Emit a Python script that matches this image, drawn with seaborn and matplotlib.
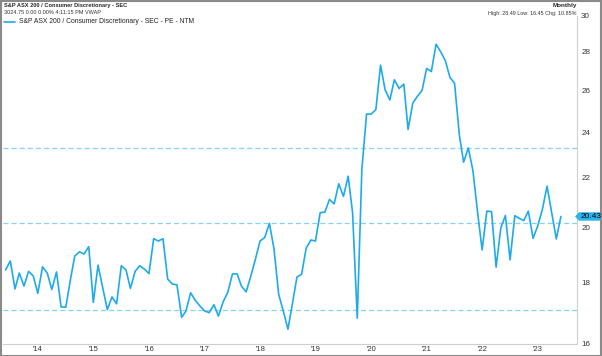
import numpy as np
import pandas as pd
import matplotlib
matplotlib.use("Agg")
import matplotlib.pyplot as plt
from matplotlib.patches import Rectangle, Polygon
import seaborn as sns

# ---- data ----
start_date = "2013-11-30"
pe_ntm = [18.44, 18.76, 17.78, 18.33, 17.88, 18.39, 18.23, 17.63, 18.55, 18.33,
          17.76, 18.37, 17.18, 17.17, 18.12, 18.94, 19.09, 19.01, 19.28, 17.33,
          18.61, 17.82, 17.09, 17.51, 17.28, 18.59, 18.44, 17.80, 18.39, 18.59,
          18.47, 18.31, 19.58, 19.49, 19.58, 18.12, 17.95, 17.92, 16.84, 17.04,
          17.65, 17.40, 17.21, 17.05, 16.99, 17.25, 16.88, 17.35, 17.66, 18.30,
          18.30, 17.88, 17.68, 18.21, 18.82, 19.49, 19.62, 20.16, 19.21, 17.60,
          17.05, 16.46, 17.33, 18.19, 18.29, 19.23, 19.53, 19.49, 20.58, 20.60,
          21.11, 20.93, 21.75, 21.23, 22.07, 20.58, 16.81, 22.35, 24.86, 24.86,
          25.07, 27.30, 26.04, 25.54, 26.55, 26.11, 26.33, 24.14, 25.39, 25.72,
          26.01, 27.13, 26.97, 28.42, 28.02, 27.54, 26.68, 26.36, 23.90, 22.67,
          23.30, 22.33, 20.60, 19.16, 20.64, 20.62, 18.54, 19.99, 20.47, 18.80,
          20.46, 20.36, 20.27, 20.64, 19.59, 20.05, 20.70, 21.65, 20.60, 19.57,
          20.43]
band_levels = [23.30, 20.19, 17.07]  # mean +1sd, mean, mean -1sd
y_ticks = [16, 18, 20, 22, 24, 26, 28, 30]
year_ticks = list(range(2014, 2024))
year_labels = ["'" + str(y)[2:] for y in year_ticks]
last_value = 20.43

title = "S&P ASX 200 / Consumer Discretionary - SEC"
subtitle = "3024.75 0.00 0.00% 4:11:15 PM VWAP"
series_name = "S&P ASX 200 / Consumer Discretionary - SEC - PE - NTM"
freq_label = "Monthly"
stats_label = "High: 28.49 Low: 16.45 Chg: 10.85%"

df = pd.DataFrame({
    "date": pd.date_range(start_date, periods=len(pe_ntm), freq="ME"),
    "pe": pe_ntm,
})

# ---- style ----
sns.set_style("white")
plt.rcParams["font.family"] = ["Liberation Sans", "DejaVu Sans"]

LINE = "#1eaaec"
BAND = "#86d4f4"
TAG = "#2ab4ef"
W, H = 602, 356
fig = plt.figure(figsize=(W / 100, H / 100), dpi=100)

ax_l, ax_r, ax_t, ax_b = 3, 577, 16, 344
ax = fig.add_axes([ax_l / W, 1 - ax_b / H, (ax_r - ax_l) / W, (ax_b - ax_t) / H])

sns.lineplot(data=df, x="date", y="pe", ax=ax, color=LINE, linewidth=1.2)
for lv in band_levels:
    ax.axhline(lv, color=BAND, linestyle=(0, (4, 2.5)), linewidth=0.9, zorder=1)

ax.set_yscale("log")
ax.set_ylim(16, 30)
ax.yaxis.set_minor_locator(matplotlib.ticker.NullLocator())
ax.set_yticks(y_ticks)
ax.set_yticklabels([str(t) for t in y_ticks])
ax.yaxis.tick_right()
ax.tick_params(axis="y", which="both", length=0, pad=3, labelsize=5.8, labelcolor="#333333")

ax.set_xlim(pd.Timestamp("2013-11-13"), pd.Timestamp("2024-03-15"))
ax.set_xticks([pd.Timestamp(f"{y}-07-01") for y in year_ticks])
ax.set_xticklabels(year_labels)
ax.tick_params(axis="x", length=0, pad=1.5, labelsize=5.5, labelcolor="#333333")
ax.set_xlabel("")
ax.set_ylabel("")

for s in ["top", "left"]:
    ax.spines[s].set_visible(False)
for s in ["right", "bottom"]:
    ax.spines[s].set_color("#cfcfcf")
    ax.spines[s].set_linewidth(0.8)

# last value tag (arrow-shaped box on the right axis)
tag_y_px = H - ax.transData.transform((0, last_value))[1]
tip_x, box_l, box_r, half_h = 575.0, 579.0, 601.5, 4.2
pts = [(tip_x, tag_y_px), (box_l, tag_y_px - half_h), (box_r, tag_y_px - half_h),
       (box_r, tag_y_px + half_h), (box_l, tag_y_px + half_h)]
fig.patches.append(Polygon([(px / W, 1 - py / H) for px, py in pts], closed=True,
                           transform=fig.transFigure, facecolor=TAG, edgecolor="none"))
fig.text((box_l + box_r) / 2 / W + 0.5 / W, 1 - tag_y_px / H, f"{last_value:.2f}",
         fontsize=6.0, ha="center", va="center", color="black")

# header texts
fig.text(4 / W, 1 - 5.7 / H, title, fontsize=4.1, fontweight="bold", va="center", ha="left")
fig.text(4 / W, 1 - 13 / H, subtitle, fontsize=4.0, va="center", ha="left", color="#333333")
fig.lines.append(plt.Line2D([4 / W, 15 / W], [1 - 21.5 / H, 1 - 21.5 / H], color=LINE,
                            linewidth=1.2, transform=fig.transFigure))
fig.text(19 / W, 1 - 21.5 / H, series_name, fontsize=4.9, va="center", ha="left", color="#222222")
fig.text(577 / W, 1 - 5.5 / H, freq_label, fontsize=4.6, fontweight="bold", va="center", ha="right")
fig.text(577 / W, 1 - 13 / H, stats_label, fontsize=3.9, va="center", ha="right", color="#333333")

# outer border
fig.patches.append(Rectangle((0.5 / W, 0.5 / H), 1 - 1.5 / W, 1 - 1.5 / H,
                             transform=fig.transFigure, fill=False,
                             edgecolor="#8a8a8a", linewidth=1.5))

fig.savefig("out.png", dpi=100)
